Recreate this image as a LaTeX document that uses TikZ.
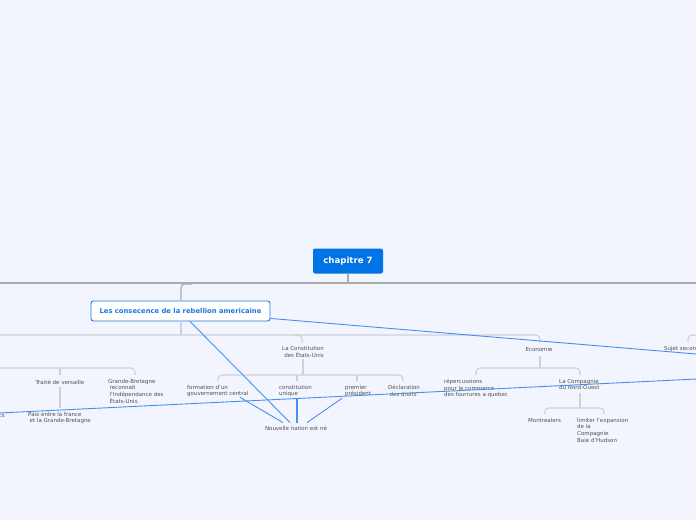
\documentclass[tikz,border=0pt]{standalone}
\usepackage{fontspec}
\setmainfont{DejaVu Sans}
\usetikzlibrary{calc}
\definecolor{bgc}{RGB}{242,245,253}
\definecolor{rootblue}{RGB}{0,115,230}
\definecolor{mainblue}{RGB}{30,120,225}
\definecolor{relblue}{RGB}{70,145,235}
\definecolor{lineA}{RGB}{170,172,180}
\definecolor{lineB}{RGB}{205,209,218}
\definecolor{txt}{RGB}{80,80,85}
\begin{document}
\begin{tikzpicture}[x=1pt,y=-1pt,
  rootbox/.style={fill=rootblue,text=white,font=\fontsize{8.6}{10}\selectfont\bfseries,
    minimum width=70pt,minimum height=25pt,rounded corners=2pt,inner sep=0pt},
  mainbox/.style={fill=white,draw=mainblue,line width=0.9pt,text=mainblue,
    font=\fontsize{6.8}{8}\selectfont\bfseries,minimum width=179pt,minimum height=20pt,
    rounded corners=2.5pt,inner sep=0pt},
  leaf/.style={text=txt,font=\fontsize{5.5}{6.6}\selectfont,inner sep=0pt,align=left},
  leafc/.style={leaf,align=center},
  l1/.style={draw=lineA,line width=1.3pt},
  l2/.style={draw=lineB,line width=1.1pt,rounded corners=4pt},
  rel/.style={draw=relblue,line width=0.9pt}]
\fill[bgc] (0,0) rectangle (696,520);
\useasboundingbox (0,0) rectangle (696,520);
\clip (0,0) rectangle (696,520);

% tree lines
\draw[l1] (-5,283) -- (701,283);
\node[rootbox] (root) at (348,261) {chapitre 7};
\draw[l1] (root.south) -- (348,283);
\node[mainbox] (main) at (180.5,311) {Les consecence de la rebellion americaine};
\draw[l1,rounded corners=4pt] (192,284) -- (181,284) -- (main.north -| 181,0);

\draw[l2] (main.south -| 181,0) -- (181,335);
\draw[l2] (-5,335) -- (540,335) -- (540,343);
\draw[l2] (294,335) -- (302,335) -- (302,343);
\draw[l2] (701,335) -- (688,335) -- (688,342);

% left branch
\draw[l2] (-5,368) -- (135,368) -- (135,375);
\draw[l2] (60,368) -- (60,375);
\node[leafc] (traite) at (60,382) {Traité de versaille};
\node[leaf,anchor=north west] (paix) at (28,412) {Paix entre la france\\\hspace{1.5pt}et la Grande-Bretagne};
\draw[l2] (traite.south) ++(0,3) -- (60,408);
\node[leaf,anchor=north west] (gb) at (108,379) {Grande-Bretagne\\\hspace{1.5pt}reconnait\\\hspace{1.5pt}l'Indépendance des\\\hspace{1.5pt}États-Unis};
\node[leaf,anchor=north east] (cs) at (5,414) {cs};

% constitution
\node[leafc] (const) at (303,352) {La Constitution\\\hspace{2pt}des États-Unis};
\draw[l2] (303,359) -- (303,375);
\draw[l2] (218,381) -- (218,375) -- (403,375) -- (403,381);
\draw[l2] (297,375) -- (297,381);
\draw[l2] (357,375) -- (357,381);
\node[leaf,anchor=north west] (form) at (187,385) {formation d'un\\gouvernement central};
\node[leaf,anchor=north west] (cu) at (279,385) {constitution\\unique};
\node[leaf,anchor=north west] (pp) at (345,385) {premier\\président};
\node[leaf,anchor=north west] (decl) at (388,385) {Déclaration\\\hspace{1.5pt}des droits};
\node[leafc] (nn) at (296,428) {Nouvelle nation est né};

% economie
\node[leafc] (eco) at (539,349) {Economie};
\draw[l2] (540,356) -- (540,368);
\draw[l2] (476,375) -- (476,368) -- (580,368) -- (580,375);
\node[leaf,anchor=north west] (rep) at (444,379) {répercussions\\pour le commerce\\des fourrures a quebec};
\node[leaf,anchor=north west] (cnw) at (559,379) {La Compagnie\\du Nord-Ouest};
\draw[l2] (580,393) -- (580,408);
\draw[l2] (545,414) -- (545,408) -- (604,408) -- (604,414);
\node[leaf,anchor=north west] (mtl) at (528,418) {Montrealers};
\node[leaf,anchor=north west] (lim) at (577,418) {limiter l'expansion\\de la\\Compagnie\\Baie d'Hudson};

\node[leaf,anchor=north west] (sujet) at (664,346) {Sujet secondaire};

% relation lines
\coordinate (r1) at (701,354.4);
\coordinate (r2) at (701,378.8);
\coordinate (l0) at (-5,413.2);
\draw[rel] ($(main.south east)+(0,-3)$) -- (r1);
\draw[rel] (l0) -- (r2);
\draw[rel] ($(main.south)+(9.5,0)$) -- ($(nn.north)+(-6,-3)$);
\draw[rel] ($(form.south west)+(53,0)$) -- ($(nn.north)+(-13,-3)$);
\draw[rel,line width=1.3pt] ($(cu.south west)+(18,1)$) -- ($(nn.north)+(1,-3)$);
\draw[rel] ($(pp.south west)+(-3,1)$) -- ($(nn.north)+(11,-3)$);
\end{tikzpicture}
\end{document}
